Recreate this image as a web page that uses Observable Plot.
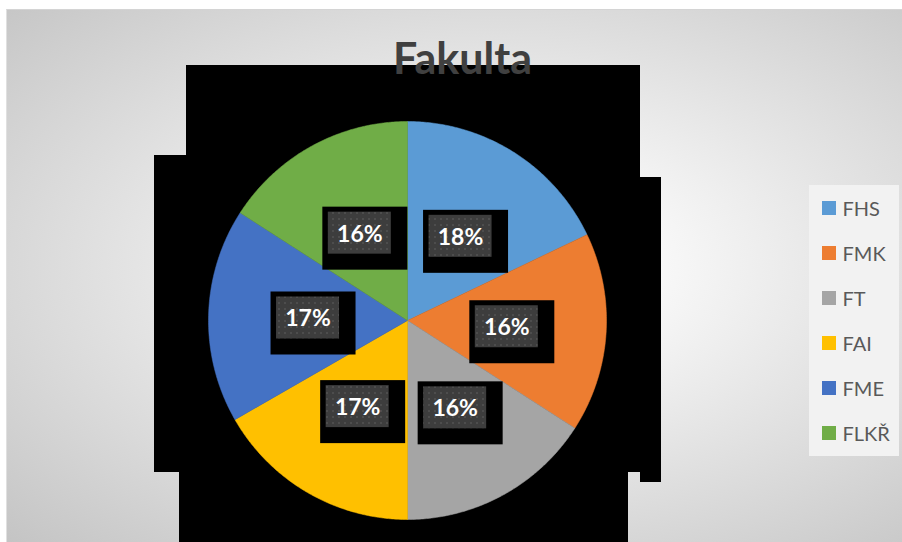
<!DOCTYPE html>
<html>
<head>
<meta charset="utf-8">
<script src="https://cdn.jsdelivr.net/npm/d3@7"></script>
<script src="https://cdn.jsdelivr.net/npm/@observablehq/plot@0.6"></script>
<style>
  html, body { margin: 0; padding: 0; background: #ffffff; }
  #wrap { position: relative; width: 902px; height: 542px; overflow: hidden; }
  #bg { position: absolute; left: 6px; top: 9px; width: 896px; height: 533px;
        border-top: 1px solid #d4d4d4; border-left: 1px solid #e0e0e0;
        background: radial-gradient(ellipse at 55% 48%, #ffffff 12%, #c4c4c4 100%); }
  #chart { position: absolute; left: 0; top: 0; }
</style>
</head>
<body>
<div id="wrap"><div id="bg"></div><div id="chart"></div></div>
<script>
// ---- data ----
const categories = ["FHS", "FMK", "FT", "FAI", "FME", "FLKŘ"];
const values = [17.9, 16.2, 15.9, 16.7, 17.4, 15.9];
const colors = ["#5B9BD5", "#ED7D31", "#A5A5A5", "#FFC000", "#4472C4", "#70AD47"];
const titleText = "Fakulta";

// ---- layout ----
const W = 902, H = 542;
const cx = 407, cy = 320, R = 199;
const labelRadius = 0.5 * R;
const font = "Lato, 'Open Sans', sans-serif";
// decorative black backdrop blocks (Excel shadow artifact), pixel rectangles
const backdrop = [
  {x1: 186, x2: 640, y1: 65, y2: 200},
  {x1: 154, x2: 640, y1: 155, y2: 472},
  {x1: 640, x2: 661, y1: 177, y2: 482},
  {x1: 179, x2: 628, y1: 471, y2: 542}
];
const legendBox = {x1: 809, x2: 899, y1: 185, y2: 456};
const legendTop = 208, legendStep = 45;

const total = d3.sum(values);
let acc = 0;
const slices = categories.map((c, i) => {
  const a0 = acc / total * 2 * Math.PI;
  acc += values[i];
  const a1 = acc / total * 2 * Math.PI;
  const pts = [{x: cx, y: cy}];
  const n = Math.max(2, Math.ceil((a1 - a0) / (Math.PI / 360)));
  for (let k = 0; k <= n; k++) {
    const a = a0 + (a1 - a0) * k / n;
    pts.push({x: cx + R * Math.sin(a), y: cy - R * Math.cos(a)});
  }
  pts.push({x: cx, y: cy});
  const am = (a0 + a1) / 2;
  return {
    key: c, color: colors[i], pts,
    lx: cx + labelRadius * Math.sin(am), ly: cy - labelRadius * Math.cos(am),
    label: Math.round(values[i] / total * 100) + "%"
  };
});

const legend = categories.map((c, i) => ({key: c, color: colors[i], y: legendTop + i * legendStep}));

const marks = [
  Plot.rect(backdrop, {x1: "x1", x2: "x2", y1: "y1", y2: "y2", fill: "#000000"}),
  ...slices.map(s => Plot.line(s.pts, {x: "x", y: "y", fill: s.color, stroke: s.color, strokeWidth: 0.5})),
  // label shadow boxes
  Plot.rect(slices, {x1: d => d.lx - 37, x2: d => d.lx + 48, y1: d => d.ly - 26, y2: d => d.ly + 37, fill: "#000000"}),
  // label inner boxes
  Plot.rect(slices, {x1: d => d.lx - 31.5, x2: d => d.lx + 31.5, y1: d => d.ly - 21, y2: d => d.ly + 21, fill: "url(#dots)"}),
  Plot.text(slices, {x: "lx", y: "ly", text: "label", fill: "#ffffff", fontSize: 23, fontWeight: "bold", fontFamily: font, dy: 1}),
  // title
  Plot.text([titleText], {x: 462, y: 60, text: d => d, fill: "#404040", fontSize: 43, fontWeight: "bold", fontFamily: font}),
  // legend
  Plot.rect([legendBox], {x1: "x1", x2: "x2", y1: "y1", y2: "y2", fill: "#f2f2f2"}),
  Plot.rect(legend, {x1: 822, x2: 836, y1: d => d.y - 7, y2: d => d.y + 7, fill: "color"}),
  Plot.text(legend, {x: 842, y: "y", text: "key", textAnchor: "start", fill: "#595959", fontSize: 20, fontFamily: font, dy: 1})
];

const chart = Plot.plot({
  width: W, height: H,
  margin: 0,
  x: {type: "identity", axis: null},
  y: {type: "identity", axis: null},
  color: {type: "identity"},
  style: {background: "transparent", overflow: "visible"},
  marks
});

// dotted texture for label boxes
const ns = "http://www.w3.org/2000/svg";
const defs = document.createElementNS(ns, "defs");
defs.innerHTML = '<pattern id="dots" width="6" height="6" patternUnits="userSpaceOnUse">' +
  '<rect width="6" height="6" fill="#3d3d3d"/><circle cx="3" cy="3" r="1" fill="#525252"/></pattern>';
chart.insertBefore(defs, chart.firstChild);

document.getElementById("chart").appendChild(chart);
</script>
</body>
</html>
